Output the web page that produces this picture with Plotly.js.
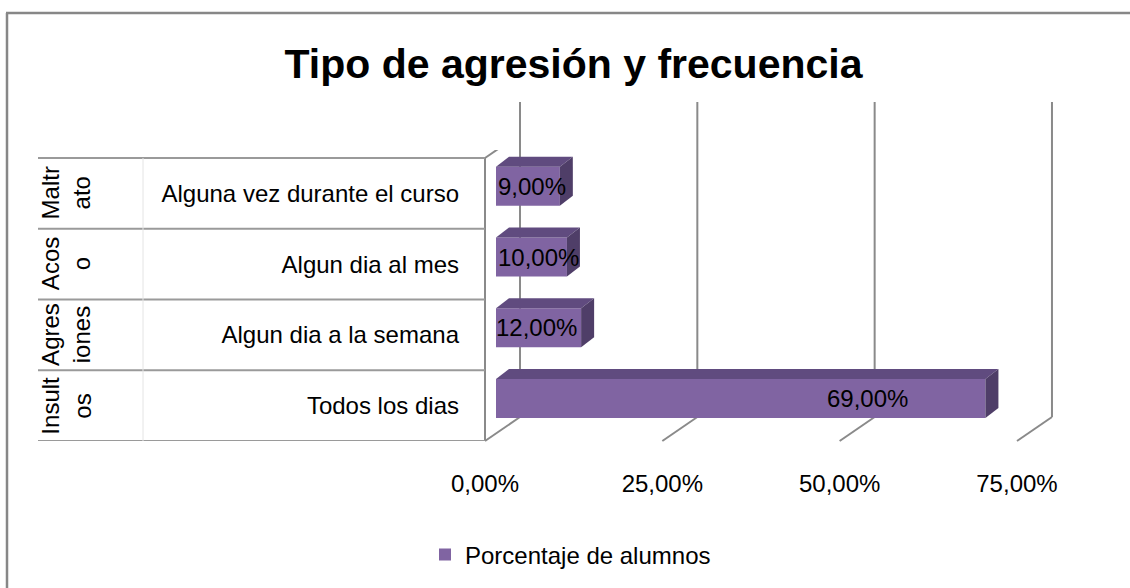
<!DOCTYPE html>
<html><head><meta charset="utf-8">
<script src="https://cdn.plot.ly/plotly-3.0.1.min.js"></script>
<style>html,body{margin:0;padding:0;background:#fff}#chart{width:1130px;height:588px}</style>
</head><body><div id="chart"></div>
<script>
// ---- data ----
const frecuencias = ['Todos los dias', 'Algun dia a la semana', 'Algun dia al mes', 'Alguna vez durante el curso'];
const tiposAgresion = [['Insult', 'os'], ['Agres', 'iones'], ['Acos', 'o'], ['Maltr', 'ato']];
const porcentajes = [69, 12, 10, 9];
const ticksValor = [0, 25, 50, 75];
const etiquetasValor = ['0,00%', '25,00%', '50,00%', '75,00%'];
const nombreSerie = 'Porcentaje de alumnos';
const titulo = 'Tipo de agresión y frecuencia';

// ---- geometry / style ----
const W = 1130, H = 588;
const plotL = 480, plotR = 1062, plotT = 150, plotB = 441;
const zeroPx = 496, pxPerPct = 7.093, rowPx = 70.75;
const xRange = [(plotL - zeroPx) / pxPerPct, (plotR - zeroPx) / pxPerPct];
const yRange = [-0.5, -0.5 + (plotB - plotT) / rowPx];
const barW = 0.55, barOff = -0.175;
const depthX = 13, depthY = 10;
const frontDx = -11, backDx = 24, backDy = 24, wallTopPx = 102;
const FONT = 'Liberation Sans, Arial, sans-serif';
const gridCol = '#8a8a8a';
const px2paperX = px => (px - plotL) / (plotR - plotL);
const px2paperY = py => (plotB - py) / (plotB - plotT);
const fmt = v => v.toFixed(2).replace('.', ',') + '%';
const pos = porcentajes.map((_, i) => i);

const shapes = [];
// outer frame
shapes.push({type: 'line', xref: 'paper', yref: 'paper', x0: px2paperX(7), x1: px2paperX(7), y0: px2paperY(13), y1: px2paperY(600), line: {color: '#878787', width: 2.5}});
shapes.push({type: 'line', xref: 'paper', yref: 'paper', x0: px2paperX(6), x1: px2paperX(1140), y0: px2paperY(13), y1: px2paperY(13), line: {color: '#878787', width: 2.5}});
// back wall gridlines + floor slants
ticksValor.forEach(v => {
  shapes.push({type: 'line', layer: 'below', xref: 'x', yref: 'paper', xsizemode: 'pixel', xanchor: v, x0: backDx, x1: backDx,
    ysizemode: 'pixel', yanchor: 0, y0: backDy, y1: plotB - wallTopPx, line: {color: gridCol, width: 2}});
  shapes.push({type: 'line', layer: 'below', xref: 'x', yref: 'paper', xsizemode: 'pixel', xanchor: v, x0: frontDx, x1: backDx,
    ysizemode: 'pixel', yanchor: 0, y0: 0, y1: backDy, line: {color: gridCol, width: 2}});
});
// left wall front edge and top slant
shapes.push({type: 'line', layer: 'below', xref: 'x', yref: 'y', xsizemode: 'pixel', xanchor: 0, x0: frontDx, x1: frontDx, y0: -0.5, y1: pos.length - 0.5, line: {color: gridCol, width: 2}});
shapes.push({type: 'line', layer: 'below', xref: 'x', yref: 'y', xsizemode: 'pixel', xanchor: 0, x0: frontDx, x1: backDx,
  ysizemode: 'pixel', yanchor: pos.length - 0.5, y0: 0, y1: backDy, line: {color: gridCol, width: 2}});
// category table lines
for (let b = -0.5; b <= pos.length - 0.5; b += 1) {
  shapes.push({type: 'line', xref: 'paper', yref: 'y', x0: px2paperX(38), x1: px2paperX(485), y0: b, y1: b, line: {color: '#9a9a9a', width: 2}});
}
shapes.push({type: 'line', xref: 'paper', yref: 'y', x0: px2paperX(143), x1: px2paperX(143), y0: -0.5, y1: pos.length - 0.5, line: {color: '#e4e4e4', width: 1}});
// 3D faces of bars
const dU = depthX / pxPerPct, Hb = barW * rowPx;
porcentajes.forEach((v, i) => {
  shapes.push({type: 'path', layer: 'above', xref: 'x', yref: 'y', ysizemode: 'pixel', yanchor: i + barOff + barW,
    path: `M 0,0 L ${v},0 L ${v + dU},${depthY} L ${dU},${depthY} Z`, fillcolor: '#604b7f', line: {width: 0}});
  shapes.push({type: 'path', layer: 'above', xref: 'x', yref: 'y', xsizemode: 'pixel', xanchor: v, ysizemode: 'pixel', yanchor: i + barOff,
    path: `M 0,0 L 0,${Hb} L ${depthX},${Hb + depthY} L ${depthX},${depthY} Z`, fillcolor: '#4f3e68', line: {width: 0}});
});

const annotations = [];
porcentajes.forEach((v, i) => {
  const txt = fmt(v);
  const fits = v * pxPerPct - 4 >= txt.length * 13.3;
  annotations.push({text: txt, xref: 'x', yref: 'y', y: i + barOff + barW / 2, showarrow: false,
    x: fits ? v : 0, xanchor: fits ? 'right' : 'left', xshift: fits ? (v > 30 ? -75 : -2) : 0,
    font: {family: FONT, size: 24, color: '#000'}});
});
tiposAgresion.forEach((lines, i) => {
  annotations.push({text: lines.join('<br>'), textangle: -90, xref: 'paper', x: px2paperX(66), xanchor: 'center',
    yref: 'y', y: i, yanchor: 'middle', showarrow: false, font: {family: FONT, size: 24, color: '#000'}});
});

const trace = {
  type: 'bar', orientation: 'h', x: porcentajes, y: pos, width: barW, offset: barOff,
  name: nombreSerie, marker: {color: '#8064a2', line: {width: 0}}, hoverinfo: 'skip', textposition: 'none'
};

const layout = {
  width: W, height: H,
  margin: {l: plotL, r: W - plotR, t: plotT, b: H - plotB, autoexpand: false},
  paper_bgcolor: '#fff', plot_bgcolor: 'rgba(0,0,0,0)',
  font: {family: FONT, size: 24, color: '#000'},
  title: {text: titulo, font: {family: FONT, size: 41, color: '#000', weight: 'bold'},
    xref: 'container', x: 573.5 / W, xanchor: 'center', yref: 'container', y: 1 - 64 / H, yanchor: 'middle'},
  xaxis: {range: xRange, tickmode: 'array', tickvals: ticksValor, ticktext: etiquetasValor, showgrid: false, zeroline: false,
    showline: false, ticks: '', ticklabelshift: frontDx, ticklabelstandoff: 26, tickfont: {family: FONT, size: 24, color: '#000'}, fixedrange: true},
  yaxis: {range: yRange, tickmode: 'array', tickvals: pos, ticktext: frecuencias, showgrid: false, zeroline: false,
    showline: false, ticks: '', ticklabelstandoff: 20, tickfont: {family: FONT, size: 24, color: '#000'}, fixedrange: true},
  showlegend: true,
  legend: {orientation: 'h', x: px2paperX(425), xanchor: 'left', y: px2paperY(555), yanchor: 'middle',
    font: {family: FONT, size: 24, color: '#000'}, bgcolor: 'rgba(0,0,0,0)'},
  shapes: shapes, annotations: annotations
};

Plotly.newPlot('chart', [trace], layout, {displayModeBar: false, staticPlot: true});
</script>
</body></html>
